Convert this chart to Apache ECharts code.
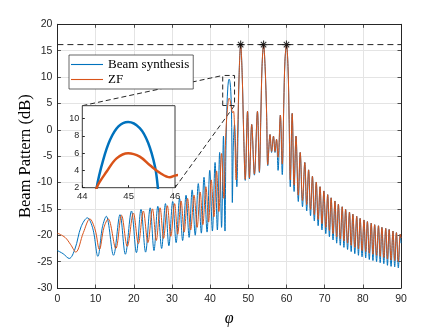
<!DOCTYPE html>
<html><head><meta charset="utf-8">
<script src="https://cdn.jsdelivr.net/npm/echarts@6/dist/echarts.min.js"></script>
<style>html,body{margin:0;padding:0;background:#fff}#c{width:443px;height:332px}</style>
</head><body><div id="c"></div>
<script>
// ---- data ----
const bsX = [0,1.5,3.1,4.6,6.2,7.85,9.3,10.6,11.8,12.8,14.7,16.4,17.8,19.4,20.7,21.9,23.1,24.3,25.3,26.3,27.3,28.3,29.2,30.2,31.1,32.0,32.8,33.7,34.5,35.3,36.1,36.9,37.7,38.4,39.2,39.9,40.6,41.3,41.9,42.5,43.0,43.5,43.9,44.1,
  44.31,44.45,44.6,44.78,44.99,45.24,45.42,45.57,45.63,45.72,45.82,46.1,46.4,46.7,47.0,47.3,47.6,48.0,48.4,48.8,49.2,49.8,50.3,50.9,51.6,52.4,52.9,53.3,53.6,54.0,54.4,54.8,55.1,55.7,56.1,56.6,57.0,57.4,57.8,58.4,58.9,59.3,59.6,60.0,60.4,60.7,61.0,61.5,62.0,62.5,63.1,63.6,64.2,64.8,
  65.3,65.8,66.3,66.8,67.3,67.8,68.3,68.8,69.3,69.8,70.3,70.8,71.25,71.7,72.2,72.7,73.15,73.6,74.1,74.6,75.05,75.5,76.0,76.5,76.95,77.4,77.9,78.4,78.85,79.3,79.8,80.3,80.75,81.2,81.7,82.2,82.65,83.1,83.6,84.1,84.55,85.0,85.5,86.0,86.45,86.9,87.4,87.9,88.35,88.8,89.3,89.8,90];
const bsY = [-22.9,-23.5,-24.4,-22.6,-18.4,-16.7,-18.8,-24.0,-18.4,-16.4,-23.8,-16.1,-23.6,-15.4,-23.3,-15.1,-23.2,-14.8,-22.9,-14.5,-22.5,-14.0,-22.0,-13.6,-21.4,-13.0,-21.0,-12.4,-20.4,-11.4,-20.0,-10.2,-19.6,-9.0,-19.4,-7.7,-19.2,-6.2,-19.0,-4.3,-18.5,-1.2,-19.2,-6,
  2,5.2,7.55,9.1,9.6,8.9,7.2,4.4,2,-4,-13.8,-2.5,1.0,-4,-10.8,-1,10.5,16.15,10.5,-1,-9.6,3.5,-9.3,1.0,-8.6,3.5,-8.1,3,12,16.15,12,3,-6.8,-0.9,-4.3,-1.2,-4.3,-1.8,-7.7,2.8,-8.5,5,13,16.15,12,2,-10.8,3.1,-11.7,-1.2,-13.6,-4.3,-14.6,-6.2,
  -15.4,-7.6,-16.3,-8.8,-17.3,-9.9,-18.2,-10.8,-19.0,-11.6,-19.7,-12.3,-20.3,-12.9,-20.9,-13.5,-21.5,-14.1,-21.9,-14.6,-22.3,-15.1,-22.7,-15.6,-23.1,-16.0,-23.5,-16.4,-23.8,-16.8,-24.1,-17.1,-24.3,-17.4,-24.6,-17.7,-24.8,-18.0,-25.0,-18.2,-25.2,-18.5,-25.4,-18.7,-25.7,-18.9,-25.9,-19.2,-26.0,-19.5,-26.2,-19.8,-21.5];

const zfX = [0,2.0,3.5,4.8,6.8,8.5,9.9,11.0,12.2,13.3,15.3,16.8,18.3,19.9,21.2,22.5,23.7,24.9,25.9,26.9,27.8,28.8,29.7,30.7,31.5,32.4,33.2,34.1,34.9,35.8,36.6,37.4,38.1,38.9,39.6,40.3,41.0,41.7,42.3,43.0,43.6,44.0,
  44.31,44.53,44.74,44.99,45.24,45.46,45.68,45.89,46.0,46.15,46.5,46.8,47.2,47.6,48.0,48.4,48.8,49.2,49.8,50.3,50.9,51.6,52.4,52.9,53.3,53.6,54.0,54.4,54.8,55.1,55.7,56.1,56.6,57.0,57.4,57.8,58.4,58.9,59.3,59.6,60.0,60.4,60.7,61.0,61.5,62.0,62.5,63.1,63.6,64.2,64.8,
  65.3,65.8,66.3,66.8,67.3,67.8,68.3,68.8,69.3,69.8,70.3,70.8,71.25,71.7,72.2,72.7,73.15,73.6,74.1,74.6,75.05,75.5,76.0,76.5,76.95,77.4,77.9,78.4,78.85,79.3,79.8,80.3,80.75,81.2,81.7,82.2,82.65,83.1,83.6,84.1,84.55,85.0,85.5,86.0,86.45,86.9,87.4,87.9,88.35,88.8,89.3,89.8,90];
const zfY = [-19.6,-20.4,-21.8,-23.2,-19.5,-16.9,-19.0,-22.7,-18.5,-16.9,-22.5,-16.2,-22.1,-15.8,-21.6,-15.4,-21.4,-15.0,-21.0,-14.8,-20.6,-14.4,-20.2,-14.0,-19.8,-13.5,-19.4,-13.0,-19.0,-12.4,-18.5,-11.8,-18.0,-10.8,-17.5,-9.5,-16.5,-7.8,-15.5,-4.5,-13,-3,
  2,3.9,5.4,6.0,5.6,4.6,3.7,3.2,3.4,3.5,-2,-9.5,-1,10.5,16.15,10.5,-1,-9.4,3.5,-9.1,1.0,-8.4,3.5,-7.9,3,12,16.15,12,3,-6.6,-0.9,-4.1,-1.2,-4.1,-1.8,-5.2,2.8,-6.5,5,13,16.15,12,2,-9.5,3.1,-10.5,-1.2,-12.4,-4.3,-13.4,-6.2,
  -14.2,-7.6,-15.1,-8.8,-16.1,-9.9,-17.0,-10.8,-17.8,-11.6,-18.5,-12.3,-19.1,-12.9,-19.7,-13.5,-20.3,-14.1,-20.7,-14.6,-21.1,-15.1,-21.5,-15.6,-21.9,-16.0,-22.3,-16.4,-22.6,-16.8,-22.9,-17.1,-23.1,-17.4,-23.4,-17.7,-23.6,-18.0,-23.8,-18.2,-24.0,-18.5,-24.2,-18.7,-24.5,-18.9,-24.7,-19.2,-24.8,-19.5,-25.0,-19.8,-20.5];

const refLevel = 16.15;           // dashed reference line (dB)
const refX = [0, 90];
const starX = [48, 54, 60];       // target directions
const rectX = [43.3, 46.4];       // zoom box on main plot
const rectY = [4.6, 10.3];
const insetX = [44, 46];
const insetY = [2, 11.5];
const names = ['Beam synthesis', 'ZF'];
const colors = ['#0072BD', '#D95319'];

// ---- chart ----
const pair = (xs, ys) => xs.map((x, i) => [x, ys[i]]);
const ax = '#262626';
const tickFont = {fontFamily: 'Liberation Sans, Arial, sans-serif', fontSize: 10.5, color: ax};
const chart = echarts.init(document.getElementById('c'));

function mainAxis(pos, isX, labels) {
  return {
    type: 'value', gridIndex: 0, position: pos,
    min: isX ? 0 : -30, max: isX ? 90 : 20, interval: isX ? 10 : 5,
    axisLine: {show: true, onZero: false, lineStyle: {color: ax, width: 1}},
    axisTick: {show: true, inside: true, length: 3.5, lineStyle: {color: ax, width: 0.8}},
    axisLabel: labels ? Object.assign({margin: isX ? 6 : 5}, tickFont) : {show: false},
    splitLine: labels ? {show: true, lineStyle: {color: '#e4e4e4', width: 1}} : {show: false},
    z: 1
  };
}

const lineIcon = 'path://M0,0H32V1.1H0Z';

const option = {
  animation: false,
  backgroundColor: '#fff',
  grid: [
    {left: 57.4, top: 24.3, width: 343.6, height: 269, containLabel: false},
    {left: 82.3, top: 105.7, width: 92.7, height: 82, show: true, backgroundColor: '#fff', borderColor: '#3a3a3a', borderWidth: 1, z: 3}
  ],
  xAxis: [
    Object.assign(mainAxis('bottom', true, true), {name: 'φ', nameLocation: 'middle', nameGap: 23, nameMoveOverlap: false,
      nameTextStyle: {fontFamily: 'Liberation Serif, serif', fontStyle: 'italic', fontSize: 16, color: '#000'}}),
    mainAxis('top', true, false),
    {type: 'value', gridIndex: 1, min: insetX[0], max: insetX[1], interval: 1, z: 4,
      axisLine: {show: false}, axisTick: {show: true, inside: true, length: 2.5, lineStyle: {color: ax}},
      axisLabel: {margin: 4, fontFamily: 'Liberation Sans, Arial, sans-serif', fontSize: 9.5, color: ax},
      splitLine: {show: false}}
  ],
  yAxis: [
    Object.assign(mainAxis('left', false, true), {name: 'Beam Pattern (dB)', nameLocation: 'middle', nameGap: 23, nameMoveOverlap: false,
      nameTextStyle: {fontFamily: 'Liberation Serif, serif', fontSize: 16.5, color: '#000'}}),
    mainAxis('right', false, false),
    {type: 'value', gridIndex: 1, min: insetY[0], max: insetY[1], interval: 2, z: 4,
      axisLine: {show: false}, axisTick: {show: true, inside: true, length: 2.5, lineStyle: {color: ax}},
      axisLabel: {margin: 3, showMaxLabel: false, fontFamily: 'Liberation Sans, Arial, sans-serif', fontSize: 9, color: ax},
      splitLine: {show: false}}
  ],
  legend: {
    data: [{name: names[0], icon: lineIcon, itemStyle: {color: colors[0]}}, {name: names[1], icon: lineIcon, itemStyle: {color: colors[1]}}],
    orient: 'vertical', left: 69, top: 55,
    backgroundColor: '#fff', borderColor: ax, borderWidth: 0.7, borderRadius: 0,
    padding: [3, 4, 3, 2], itemWidth: 32, itemHeight: 13, itemGap: 2,
    textStyle: {fontFamily: 'Liberation Serif, serif', fontSize: 13, color: '#000'},
    z: 6
  },
  series: [
    {name: names[0], type: 'line', xAxisIndex: 0, yAxisIndex: 0, data: pair(bsX, bsY), symbol: 'none', smooth: 0.35,
      lineStyle: {color: colors[0], width: 1}, itemStyle: {color: colors[0]}, z: 2},
    {name: names[1], type: 'line', xAxisIndex: 0, yAxisIndex: 0, data: pair(zfX, zfY), symbol: 'none', smooth: 0.35,
      lineStyle: {color: colors[1], width: 1}, itemStyle: {color: colors[1]}, z: 2},
    {name: 'ref', type: 'line', xAxisIndex: 0, yAxisIndex: 0, data: refX.map(x => [x, refLevel]), symbol: 'none',
      lineStyle: {color: ax, width: 1, type: [6, 4]}, z: 2},
    {name: 'targets', type: 'scatter', xAxisIndex: 0, yAxisIndex: 0, data: starX.map(x => [x, refLevel]),
      symbol: 'path://M5,0L5,10M0,5L10,5M1.6,1.6L8.4,8.4M1.6,8.4L8.4,1.6', symbolSize: 8,
      itemStyle: {color: 'rgba(0,0,0,0)', borderColor: '#000', borderWidth: 1.1}, z: 4},
    {name: 'box', type: 'line', xAxisIndex: 0, yAxisIndex: 0,
      data: [[rectX[0], rectY[0]], [rectX[0], rectY[1]], [rectX[1], rectY[1]], [rectX[1], rectY[0]], [rectX[0], rectY[0]]],
      symbol: 'none', lineStyle: {color: ax, width: 1, type: [5, 3]}, z: 3},
    {name: 'bs-inset', type: 'line', xAxisIndex: 2, yAxisIndex: 2, data: pair(bsX, bsY), symbol: 'none', smooth: 0.35,
      lineStyle: {color: colors[0], width: 2.5}, z: 5},
    {name: 'zf-inset', type: 'line', xAxisIndex: 2, yAxisIndex: 2, data: pair(zfX, zfY), symbol: 'none', smooth: 0.35,
      lineStyle: {color: colors[1], width: 2.5}, z: 5}
  ]
};
chart.setOption(option);

// connector lines between inset and zoom box, positioned through the axes' own scales
const a1 = chart.convertToPixel({gridIndex: 1}, [insetX[0], insetY[1]]);
const b1 = chart.convertToPixel({gridIndex: 0}, [rectX[0], rectY[1]]);
const a2 = chart.convertToPixel({gridIndex: 1}, [insetX[1], insetY[0]]);
const b2 = chart.convertToPixel({gridIndex: 0}, [rectX[1], rectY[0]]);
chart.setOption({graphic: [
  {type: 'line', shape: {x1: a1[0], y1: a1[1], x2: b1[0], y2: b1[1]}, style: {stroke: ax, lineWidth: 1, lineDash: [5, 3]}, z: 1},
  {type: 'line', shape: {x1: a2[0], y1: a2[1], x2: b2[0], y2: b2[1]}, style: {stroke: ax, lineWidth: 1, lineDash: [5, 3]}, z: 1}
]});
</script>
</body></html>
